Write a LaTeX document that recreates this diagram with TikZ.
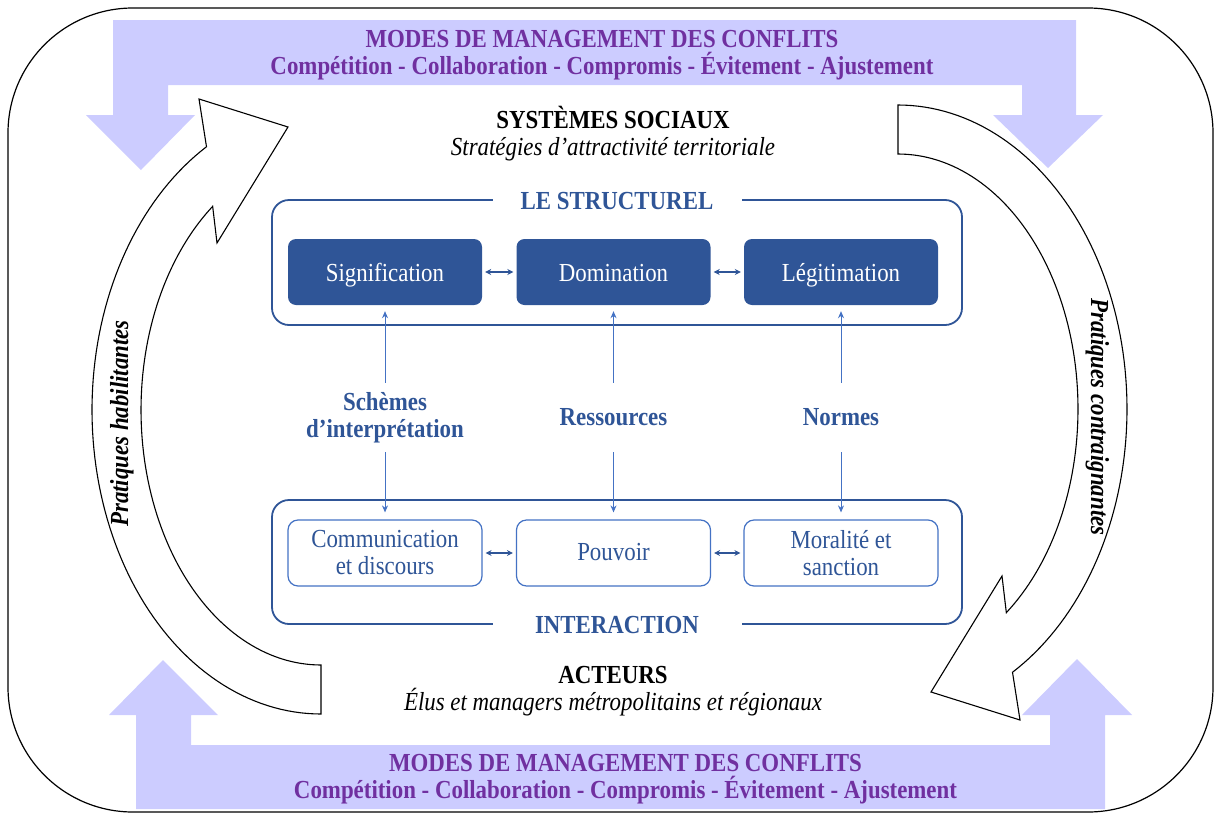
\documentclass[tikz,border=0pt]{standalone}
\usepackage{fontspec}
\setmainfont{Liberation Serif}[FakeStretch=0.88]
\usetikzlibrary{arrows.meta}
\definecolor{lav}{HTML}{CCCCFF}
\definecolor{purp}{HTML}{7030A0}
\definecolor{dblue}{HTML}{2F5597}
\definecolor{mblue}{HTML}{4472C4}
\begin{document}
\begin{tikzpicture}[x=1pt,y=-1pt,
  base/.style={font=\fontsize{26}{27}\selectfont, align=center, inner sep=0pt},
  boldtxt/.style={base, font=\fontsize{26}{27}\selectfont\bfseries},
  itxt/.style={base, font=\fontsize{26}{27}\selectfont\itshape},
  bandtxt/.style={boldtxt, text=purp, anchor=base},
  container/.style={draw=dblue, line width=1.8pt, rounded corners=17pt, minimum width=690pt, minimum height=125pt, inner sep=0pt},
  contlabel/.style={boldtxt, fill=white, text=dblue, minimum width=249pt, minimum height=22pt, text depth=0pt},
  sbox/.style={base, fill=dblue, text=white, rounded corners=8pt, minimum width=194pt, minimum height=66pt},
  lbox/.style={base, draw=mblue, line width=1.2pt, fill=white, text=dblue, rounded corners=10pt, minimum width=194pt, minimum height=66pt},
  midlab/.style={boldtxt, text=dblue, minimum height=69pt},
  varrow/.style={draw=mblue, line width=1pt, -{Stealth[length=7pt,width=6pt]}},
  harrow/.style={draw=dblue, line width=1.2pt, {Stealth[length=6pt,width=6pt]}-{Stealth[length=6pt,width=6pt]}, shorten <=3pt, shorten >=3pt},
  curvearrow/.style={draw=black, line width=1.1pt, fill=white, line join=miter},
  frame/.style={draw=black, line width=1.2pt, rounded corners=125pt},
  sidetxt/.style={base, font=\fontsize{26}{27}\selectfont\bfseries\itshape, anchor=base}
]
\useasboundingbox (0,0) rectangle (1215,814);

% outer frame
\draw[frame] (8,8) rectangle (1213,812);

% top band with down arrows
\fill[lav] (113,20) -- (1076,20) -- (1076,115) -- (1103,115) -- (1048,168) -- (993,115) -- (1022,115) -- (1022,85)
  -- (168,85) -- (168,115) -- (195,115) -- (141,170) -- (86,115) -- (113,115) -- cycle;
% bottom band with up arrows
\fill[lav] (136,809) -- (1105,809) -- (1105,715) -- (1132,715) -- (1077,659) -- (1022,715) -- (1050,715) -- (1050,745)
  -- (191,745) -- (191,715) -- (218,715) -- (163,660) -- (109,715) -- (136,715) -- cycle;

\node[bandtxt] (topmodes) at (602,47) {MODES DE MANAGEMENT DES CONFLITS};
\node[bandtxt] (topstyles) at (602,74) {Compétition - Collaboration - Compromis - Évitement - Ajustement};
\node[bandtxt] (botmodes) at (625.5,771) {MODES DE MANAGEMENT DES CONFLITS};
\node[bandtxt] (botstyles) at (625.5,798) {Compétition - Collaboration - Compromis - Évitement - Ajustement};

% curved arrows
\draw[curvearrow] plot[domain=90:240,samples=90] ({321+229*cos(\x)},{410+304*sin(\x)})
  -- (199,99) -- (288,127) -- (217,243)
  -- plot[domain=233:90,samples=90] ({321+180*cos(\x)},{410+255*sin(\x)}) -- cycle;
\begin{scope}[rotate around={180:(609.5,409.5)}]
\draw[curvearrow] plot[domain=90:240,samples=90] ({321+229*cos(\x)},{410+304*sin(\x)})
  -- (199,99) -- (288,127) -- (217,243)
  -- plot[domain=233:90,samples=90] ({321+180*cos(\x)},{410+255*sin(\x)}) -- cycle;
\end{scope}
\node[sidetxt, rotate=90] (hab) at (128,423.5) {Pratiques habilitantes};
\node[sidetxt, rotate=-90] (con) at (1091,417) {Pratiques contraignantes};

% titles
\node[boldtxt, anchor=base] (systitle) at (613,128) {SYSTÈMES SOCIAUX};
\node[itxt, anchor=base] (syssub) at (613,155) {Stratégies d’attractivité territoriale};
\node[boldtxt, anchor=base] (acttitle) at (613,683) {ACTEURS};
\node[itxt, anchor=base] (actsub) at (613,710) {Élus et managers métropolitains et régionaux};

% containers
\node[container] (struct) at (617,262.5) {};
\node[container, minimum height=124pt] (inter) at (617,562) {};
\node[contlabel, text height=20pt] (structlab) at (struct.north) {LE STRUCTUREL};
\node[contlabel, text height=17pt] (interlab) at (inter.south) {INTERACTION};

% structural boxes
\node[sbox, text height=20pt, text depth=2pt] (sig) at (385,272) {Signification};
\node[sbox, text height=20pt, text depth=2pt] (dom) at (613.5,272) {Domination};
\node[sbox, text height=20pt, text depth=2pt] (leg) at (841,272) {Légitimation};
% interaction boxes
\node[lbox] (com) at (385,553) {Communication\\et discours};
\node[lbox, text height=18pt, text depth=2.6pt] (pou) at (613.5,553) {Pouvoir};
\node[lbox] (mor) at (841,553) {Moralité et\\sanction};

% middle labels
\node[midlab] (sch) at (385,417.5) {Schèmes\\d’interprétation};
\node[midlab, text height=18pt, text depth=3pt] (res) at (613.5,417.5) {Ressources};
\node[midlab, text height=18pt, text depth=3pt] (nor) at (841,417.5) {Normes};

% connectors
\draw[harrow] (sig.east) -- (dom.west);
\draw[harrow] (dom.east) -- (leg.west);
\draw[harrow] (com.east) -- (pou.west);
\draw[harrow] (pou.east) -- (mor.west);

\draw[varrow, shorten >=6pt] (sch.north) -- (sig.south);
\draw[varrow, shorten >=6pt] (res.north) -- (dom.south);
\draw[varrow, shorten >=6pt] (nor.north) -- (leg.south);
\draw[varrow, shorten >=7pt] (sch.south) -- (com.north);
\draw[varrow, shorten >=7pt] (res.south) -- (pou.north);
\draw[varrow, shorten >=7pt] (nor.south) -- (mor.north);
\end{tikzpicture}
\end{document}
